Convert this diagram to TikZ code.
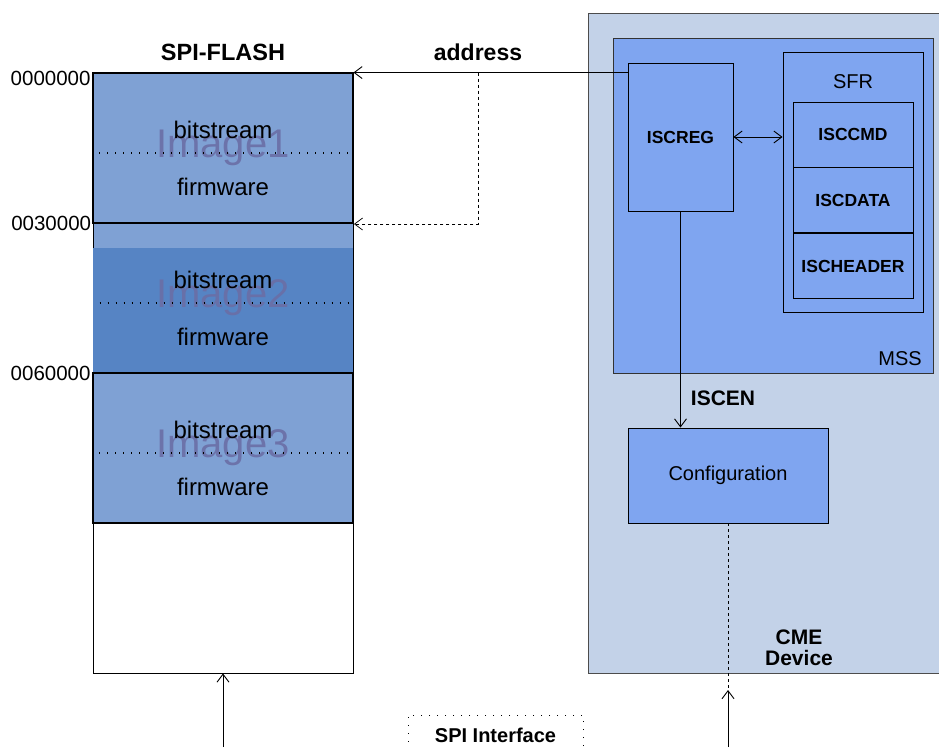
\documentclass[tikz,border=0pt]{standalone}
\usepackage{fontspec}
\setmainfont{Liberation Sans}
\usetikzlibrary{arrows.meta,positioning}

\definecolor{flashblue}{HTML}{7FA1D4}
\definecolor{imgdark}{HTML}{5684C4}
\definecolor{mssblue}{HTML}{7FA5F0}
\definecolor{cmegray}{HTML}{C3D2E8}
\definecolor{wmgray}{HTML}{6A6EA6}

\begin{document}
\begin{tikzpicture}[x=1pt, y=-1pt, line width=0.9pt,
  >={Straight Barb[length=8pt,width=12pt]},
  blk/.style={draw, inner sep=0pt, minimum width=#1},
  img/.style={blk=260, minimum height=150, fill=flashblue, line width=2pt},
  part/.style={font=\fontsize{24}{27}\selectfont},
  wmark/.style={font=\fontsize{40}{44}\selectfont, text=wmgray, opacity=0.9},
  addr/.style={anchor=east, inner sep=1pt, font=\fontsize{20.5}{24}\selectfont},
  reg/.style={blk=120, minimum height=65, fill=mssblue, font=\bfseries\fontsize{17.5}{20}\selectfont},
  lbl/.style={font=\fontsize{20}{24}\selectfont},
  blbl/.style={font=\bfseries\fontsize{21}{25}\selectfont},
  dots/.style={line width=1.3pt, dash pattern=on 1.3pt off 6.7pt}]
  \useasboundingbox (0,0) rectangle (939,747);

  % flash memory
  \node[blk=260, minimum height=600] (flash) at (223,373) {};
  \node[font=\bfseries\fontsize{23.5}{26}\selectfont] (flashtitle) at (223,52) {SPI-FLASH};
  \node[img] (img1) at (223,148) {};
  \node[img, line width=0.9pt] (img2) at (223,298) {};
  \node[blk=260, minimum height=125, draw=none, fill=imgdark] (img2dark) at (223,310.5) {};
  \node[img] (img3) at (223,448) {};
  \draw[line width=2pt] (img2.north west) -- (img2.north east);
  \foreach \i in {1,2,3} {
    \node[wmark] (wm\i) at (img\i.center) {Image\i};
    \node[part] (bit\i) at ([yshift=18pt]img\i.center) {bitstream};
    \node[part] (fw\i) at ([yshift=-39pt]img\i.center) {firmware};
    \draw[dots] ([xshift=7pt,yshift=-5pt]img\i.west) -- ([yshift=-5pt]img\i.east);
  }
  \node[addr] (a0) at ([yshift=-6pt]img1.north west) {0000000};
  \node[addr] (a1) at ([yshift=-1pt]img2.north west) {0030000};
  \node[addr] (a2) at ([yshift=-1pt]img3.north west) {0060000};

  % device
  \node[blk=370, minimum height=660, fill=cmegray, draw=black!70] (cme) at (773,343) {};
  \node[blk=320, minimum height=335, fill=mssblue, draw=black!80] (mss) at (773,205.5) {};
  \node[lbl, anchor=south east] (msslbl) at ([xshift=-8pt,yshift=4pt]mss.south east) {MSS};
  \node[blk=105, minimum height=148, fill=mssblue, font=\bfseries\fontsize{17.5}{20}\selectfont] (iscreg) at (680.5,137) {ISCREG};
  \node[blk=140, minimum height=260, fill=mssblue] (sfr) at (853,182) {};
  \node[lbl] (sfrlbl) at (853,82) {SFR};
  \node[reg] (isccmd) at (853,134.5) {ISCCMD};
  \node[reg, below=0pt of isccmd] (iscdata) {ISCDATA};
  \node[reg, below=0pt of iscdata] (ischeader) {ISCHEADER};
  \node[blk=200, minimum height=95, fill=mssblue, lbl] (config) at (728,475.5) {Configuration};
  \node[blbl, align=center] (cmelbl) at (799,648) {CME\\[-4pt]Device};

  % connections
  \node[font=\bfseries\fontsize{23}{26}\selectfont] (addrlbl) at (478,52) {address};
  \coordinate (split) at (addrlbl |- flash.north);
  \draw[->] (iscreg.west |- flash.north) -- (flash.north east);
  \draw[->, dashed, line width=0.7pt] (split) |- (img1.south east);
  \draw[<->] (iscreg.east) -- (iscreg.east -| sfr.west);
  \draw[->] (iscreg.south) -- (iscreg.south |- config.north);
  \node[blbl] (iscen) at (723,398) {ISCEN};
  \coordinate (cfgin) at (728,747);
  \coordinate (cfgtip) at (728,690);
  \draw[dashed, line width=0.7pt] (config.south) -- (cfgtip);
  \draw[->] (cfgin) -- (cfgtip);
  \coordinate (flashin) at (223,747);
  \draw[->] (flashin) -- (flash.south);

  % spi interface
  \node[draw, dots, line width=0.8pt, minimum width=175, minimum height=40, font=\bfseries\fontsize{20}{24}\selectfont] (spi) at (495.5,735) {SPI Interface};
\end{tikzpicture}
\end{document}
